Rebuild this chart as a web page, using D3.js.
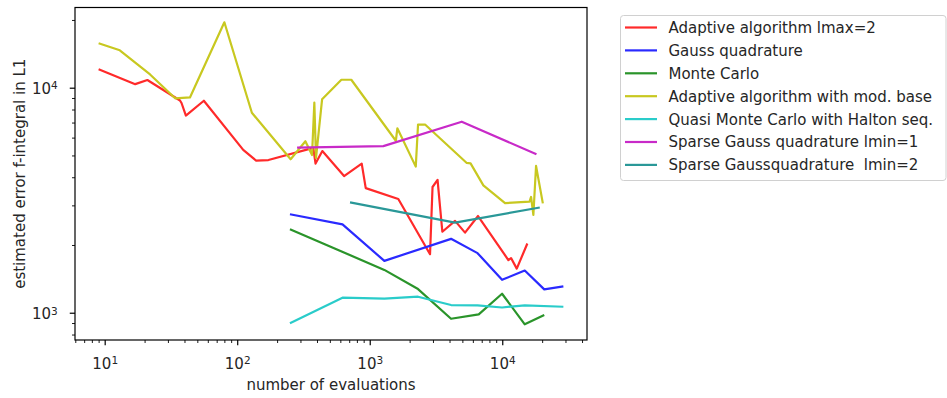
<!DOCTYPE html>
<html>
<head>
<meta charset="utf-8">
<script src="https://cdn.jsdelivr.net/npm/d3@7"></script>
<style>
  html, body { margin: 0; padding: 0; background: #fff; }
  svg { display: block; font-family: "DejaVu Sans", sans-serif; }
</style>
</head>
<body>
<svg id="chart" width="947" height="398"></svg>
<script>
// Number of function evaluations and estimated L1 error per method
const adaptiveEvals = [9, 17, 21, 37, 38, 41, 56, 111, 139, 172, 375, 390, 439, 640, 870, 933, 1643, 2851, 2978, 3249, 3532, 4404, 5239, 6567, 11120, 11650, 12866, 15466];
const adaptiveErr   = [12070, 10370, 10820, 8770, 8550, 7520, 8750, 5290, 4740, 4770, 5400, 4600, 5230, 4050, 4600, 3580, 3200, 1820, 3620, 3890, 2290, 2560, 2270, 2690, 1715, 1750, 1570, 2030];

const gaussEvals = [250, 623, 1289, 4108, 6510, 9966, 14785, 20750, 28920];
const gaussErr   = [2740, 2470, 1700, 2130, 1840, 1400, 1540, 1270, 1310];

const mcEvals = [250, 1289, 2315, 4108, 6646, 9966, 14785, 20750];
const mcErr   = [2350, 1550, 1274, 940, 984, 1214, 888, 977];

const modBaseEvals = [9, 13, 22, 34, 44, 80, 129, 253, 327, 367, 382, 393, 437, 611, 726, 1574, 1616, 2225, 2315, 2615, 5397, 5766, 7201, 10500, 16070, 16500, 17170, 17990, 20250];
const modBaseErr   = [15750, 14660, 11450, 8970, 9050, 19530, 7740, 4810, 5780, 5020, 8580, 4870, 8880, 10850, 10850, 5810, 6600, 4460, 6860, 6860, 4630, 4610, 3680, 3070, 3120, 3270, 2720, 4490, 3060];

const qmcEvals = [250, 623, 1289, 2315, 4108, 6510, 9966, 14785, 28920];
const qmcErr   = [897, 1166, 1156, 1178, 1082, 1079, 1055, 1079, 1063];

const sparse1Evals = [283, 1267, 4947, 18120];
const sparse1Err   = [5420, 5500, 7060, 5060];

const sparse2Evals = [710, 4400, 19190];
const sparse2Err   = [3095, 2516, 2935];

const seriesNames = [
  "Adaptive algorithm lmax=2",
  "Gauss quadrature",
  "Monte Carlo",
  "Adaptive algorithm with mod. base",
  "Quasi Monte Carlo with Halton seq.",
  "Sparse Gauss quadrature lmin=1",
  "Sparse Gaussquadrature  lmin=2"
];
const seriesColors = ["#ff2a2a", "#2a2aff", "#2a942a", "#c8c820", "#2accca", "#c82ac8", "#2a9898"];
const seriesX = [adaptiveEvals, gaussEvals, mcEvals, modBaseEvals, qmcEvals, sparse1Evals, sparse2Evals];
const seriesY = [adaptiveErr, gaussErr, mcErr, modBaseErr, qmcErr, sparse1Err, sparse2Err];

const xTickValues = [10, 100, 1000, 10000];
const yTickValues = [1000, 10000];

const xLabel = "number of evaluations";
const yLabel = "estimated error f-integral in L1";

// Layout
const plot = { left: 75, right: 587, top: 7.5, bottom: 340 };
const fontSize = 15;
const textColor = "#262626";

const svg = d3.select("#chart");

const x = d3.scaleLog().domain([5.97, 43600]).range([plot.left, plot.right]);
const y = d3.scaleLog().domain([756.5, 22720]).range([plot.bottom, plot.top]);

// Minor ticks: 2..9 within each decade
function minorTicks(scale) {
  const [a, b] = scale.domain();
  const out = [];
  for (let e = Math.floor(Math.log10(a)); e <= Math.ceil(Math.log10(b)); e++) {
    for (let m = 2; m <= 9; m++) {
      const v = m * Math.pow(10, e);
      if (v >= a && v <= b) out.push(v);
    }
  }
  return out;
}

// Lines
const line = d3.line().x(d => x(d[0])).y(d => y(d[1]));
svg.append("clipPath").attr("id", "clip")
  .append("rect")
  .attr("x", plot.left).attr("y", plot.top)
  .attr("width", plot.right - plot.left).attr("height", plot.bottom - plot.top);
const lines = svg.append("g")
  .attr("clip-path", "url(#clip)");

seriesX.forEach((xs, i) => {
  const pts = xs.map((v, j) => [v, seriesY[i][j]]);
  lines.append("path")
    .attr("d", line(pts))
    .attr("fill", "none")
    .attr("stroke", seriesColors[i])
    .attr("stroke-width", 2.2)
    .attr("stroke-linejoin", "round")
    .attr("stroke-linecap", "butt");
});

// Axes
function supLabel(sel, exp) {
  sel.text("");
  sel.append("tspan").text("10");
  sel.append("tspan").attr("dy", "-0.45em").attr("font-size", "0.7em").text(exp);
}

const xAxis = svg.append("g").attr("transform", `translate(0,${plot.bottom})`);
xAxis.call(d3.axisBottom(x).tickValues(xTickValues).tickSize(5.25).tickPadding(8).tickFormat(() => ""));
xAxis.call(g => g.select(".domain").remove());
xAxis.selectAll(".tick line").attr("stroke", "#000").attr("stroke-width", 1.2);
xAxis.selectAll(".tick text")
  .attr("font-size", fontSize)
  .attr("fill", textColor)
  .attr("font-family", "DejaVu Sans")
  .attr("dy", "1.05em")
  .each(function(d) { supLabel(d3.select(this), String(Math.round(Math.log10(d)))); });
const xMinor = svg.append("g").attr("transform", `translate(0,${plot.bottom})`);
xMinor.call(d3.axisBottom(x).tickValues(minorTicks(x)).tickSize(3).tickFormat(() => ""));
xMinor.call(g => g.select(".domain").remove());
xMinor.selectAll(".tick line").attr("stroke", "#000").attr("stroke-width", 0.9);

const yAxis = svg.append("g").attr("transform", `translate(${plot.left},0)`);
yAxis.call(d3.axisLeft(y).tickValues(yTickValues).tickSize(5.25).tickPadding(12).tickFormat(() => ""));
yAxis.call(g => g.select(".domain").remove());
yAxis.selectAll(".tick line").attr("stroke", "#000").attr("stroke-width", 1.2);
yAxis.selectAll(".tick text")
  .attr("font-size", fontSize)
  .attr("fill", textColor)
  .attr("font-family", "DejaVu Sans")
  .attr("dy", "0.4em")
  .each(function(d) { supLabel(d3.select(this), String(Math.round(Math.log10(d)))); });
const yMinor = svg.append("g").attr("transform", `translate(${plot.left},0)`);
yMinor.call(d3.axisLeft(y).tickValues(minorTicks(y)).tickSize(3).tickFormat(() => ""));
yMinor.call(g => g.select(".domain").remove());
yMinor.selectAll(".tick line").attr("stroke", "#000").attr("stroke-width", 0.9);

// Frame
svg.append("rect")
  .attr("x", plot.left).attr("y", plot.top)
  .attr("width", plot.right - plot.left).attr("height", plot.bottom - plot.top)
  .attr("fill", "none").attr("stroke", "#000").attr("stroke-width", 1.2);

// Axis titles
svg.append("text")
  .attr("x", (plot.left + plot.right) / 2).attr("y", 390)
  .attr("text-anchor", "middle")
  .attr("font-size", fontSize).attr("fill", textColor)
  .text(xLabel);
svg.append("text")
  .attr("transform", `translate(25,${(plot.top + plot.bottom) / 2}) rotate(-90)`)
  .attr("text-anchor", "middle")
  .attr("font-size", fontSize).attr("fill", textColor)
  .text(yLabel);

// Legend
const legend = svg.append("g");
legend.append("rect")
  .attr("x", 620.5).attr("y", 15.5)
  .attr("width", 325.5).attr("height", 165)
  .attr("rx", 3).attr("ry", 3)
  .attr("fill", "#fff").attr("fill-opacity", 0.8)
  .attr("stroke", "#d0d0d0").attr("stroke-width", 1);
seriesNames.forEach((name, i) => {
  const cy = 27.5 + i * 22.9;
  legend.append("line")
    .attr("x1", 625).attr("x2", 657)
    .attr("y1", cy).attr("y2", cy)
    .attr("stroke", seriesColors[i]).attr("stroke-width", 2.2);
  legend.append("text")
    .attr("x", 668.5).attr("y", cy)
    .attr("dy", "0.36em")
    .attr("font-size", fontSize).attr("fill", textColor)
    .style("white-space", "pre")
    .text(name);
});
</script>
</body>
</html>
